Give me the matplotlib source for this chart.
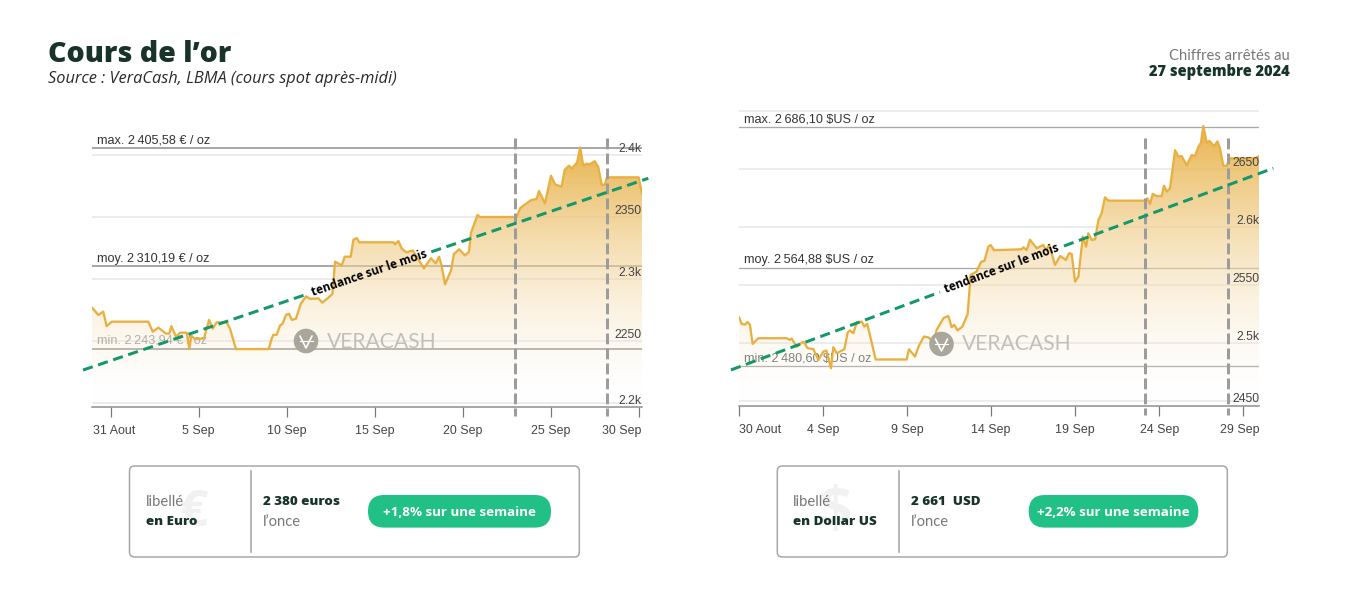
import numpy as np
import matplotlib
matplotlib.use('Agg')
import matplotlib.pyplot as plt
from matplotlib.colors import LinearSegmentedColormap
from matplotlib.patches import Circle, FancyBboxPatch
from matplotlib.transforms import ScaledTranslation

# euro panel (x = days since 31 Aout)
eur_days = [-1.06, -0.7, -0.42, -0.23, 0.06, 2.14, 2.39, 2.71, 3.14, 3.33, 3.45, 3.71, 3.94, 4.32, 4.47, 4.58,
            4.79, 5.3, 5.59, 5.8, 6.02, 6.59, 6.78, 7.12, 8.98, 9.15, 9.24, 9.43, 9.62, 9.77, 9.96, 10.13,
            10.3, 10.53, 10.8, 11.1, 11.33, 11.8, 12.03, 12.37, 12.6, 12.75, 13.13, 13.3, 13.64, 13.79, 13.98,
            14.13, 16.06, 16.15, 16.35, 16.53, 16.8, 17.16, 17.39, 17.8, 18.2, 18.47, 18.66, 18.8, 19.0, 19.34,
            19.5, 19.8, 20.13, 20.36, 20.47, 20.84, 20.99, 23.07, 23.26, 23.5, 23.9, 24.2, 24.34, 24.68, 25.02,
            25.25, 25.62, 25.8, 26.04, 26.2, 26.5, 26.68, 26.85, 27.04, 27.2, 27.5, 27.7, 27.9, 28.08, 28.2,
            30.0, 30.19]
eur_vals = [2276.9, 2271, 2273.7, 2262, 2265.6, 2265.6, 2257.5, 2260.8, 2256, 2256, 2262, 2253.5, 2256.7, 2256.7,
            2243.5, 2254.3, 2251.6, 2252, 2267, 2260, 2265, 2265, 2260, 2243.5, 2243.5, 2252, 2255, 2255, 2262.4,
            2264, 2271, 2272, 2267, 2268, 2280, 2286, 2284, 2284.4, 2281, 2285, 2288, 2314, 2311, 2318, 2318,
            2331.5, 2333, 2329.6, 2329.6, 2328, 2330.6, 2324.7, 2321.5, 2323, 2318, 2308.6, 2316.7, 2312.6, 2318,
            2311, 2295.7, 2307, 2320, 2324, 2319, 2322, 2337, 2351.6, 2350, 2350, 2357, 2359.7, 2363.7, 2364.5,
            2371, 2361, 2383.3, 2376.3, 2374.5, 2388, 2391.4, 2389, 2394, 2406, 2391.4, 2393, 2392.5, 2395, 2390.6,
            2376, 2376, 2382, 2382, 2369]
eur_ticks = [0, 5, 10, 15, 20, 25, 30]
eur_ticklabels = ['31 Aout', '5 Sep', '10 Sep', '15 Sep', '20 Sep', '25 Sep', '30 Sep']
eur_grid = [2200, 2250, 2300, 2350, 2400]
eur_ylabels = ['2.2k', '2250', '2.3k', '2350', '2.4k']
eur_refs = [2405.58, 2310.19, 2243.94]
eur_reflabels = ['max. 2\u2009405,58 € / oz', 'moy. 2\u2009310,19 € / oz', 'min. 2\u2009243,94 € / oz']
eur_week = [22.97, 28.2]
eur_trend = [([-1.57, 11.14], [2226.6, 2287.7]), ([18.22, 30.55], [2321.9, 2381.2])]

# dollar panel (x = days since 30 Aout)
usd_days = [0, 0.16, 0.36, 0.5, 0.65, 0.81, 1.15, 2.84, 3.03, 3.13, 3.43, 3.83, 4.08, 4.42, 4.72, 5.02, 5.2, 5.47,
            5.61, 5.81, 6.27, 6.46, 6.6, 6.8, 7, 7.3, 7.46, 7.63, 8.13, 9.97, 10.11, 10.47, 10.7, 11, 11.26, 11.56,
            11.76, 12.16, 12.45, 12.65, 12.8, 13, 13.29, 13.6, 13.78, 14.13, 14.4, 14.6, 14.83, 14.97, 15.17, 16.81,
            16.92, 17.11, 17.31, 17.71, 18.1, 18.26, 18.46, 18.8, 19.1, 19.45, 19.63, 19.79, 19.99, 20.19, 20.45,
            20.65, 20.78, 20.98, 21.18, 21.38, 21.57, 21.77, 21.97, 24.15, 24.29, 24.45, 24.61, 24.85, 25.15, 25.28,
            25.44, 25.64, 25.94, 26.14, 26.33, 26.63, 26.93, 27.13, 27.33, 27.48, 27.62, 27.82, 27.98, 28.26, 28.46,
            28.61, 28.81, 29.01, 29.21, 30.7, 30.95]
usd_vals = [2522.3, 2516.6, 2516, 2518.3, 2515.8, 2499.4, 2504.3, 2504.3, 2502.9, 2504, 2497, 2501.4, 2495.7, 2495,
            2485.7, 2492.8, 2493.7, 2478.5, 2496.6, 2491.4, 2494.8, 2509, 2511, 2508.6, 2517.8, 2518.6, 2514.3,
            2516.6, 2486, 2486, 2494.8, 2488.5, 2497.7, 2505.7, 2505, 2501.4, 2511.5, 2521.5, 2523.5, 2513.8, 2515.8,
            2511, 2514.3, 2525, 2558.7, 2561.6, 2570, 2570.8, 2583, 2584.5, 2580, 2580.8, 2582.5, 2580, 2589, 2581.7,
            2584.5, 2580, 2584.5, 2567.3, 2575, 2571.6, 2577.4, 2576.8, 2553, 2557.3, 2591.7, 2583, 2594.6, 2588.8,
            2589.4, 2606, 2611.7, 2625.5, 2622.6, 2622.6, 2624.6, 2619.8, 2628.4, 2626.6, 2626.6, 2635.5, 2630.4,
            2633.2, 2666, 2660.5, 2661, 2653, 2661.9, 2661, 2669, 2672.5, 2686.8, 2672.5, 2674, 2669.6, 2673.6, 2667.6,
            2652.7, 2652.7, 2659, 2659, 2661]
usd_ticks = [0, 5, 10, 15, 20, 25, 30]
usd_ticklabels = ['30 Aout', '4 Sep', '9 Sep', '14 Sep', '19 Sep', '24 Sep', '29 Sep']
usd_grid = [2450, 2500, 2550, 2600, 2650, 2700]
usd_ylabels = ['2450', '2.5k', '2550', '2.6k', '2650', '']
usd_refs = [2686.10, 2564.88, 2480.60]
usd_reflabels = ['max. 2\u2009686,10 $US / oz', 'moy. 2\u2009564,88 $US / oz', 'min. 2\u2009480,60 $US / oz']
usd_week = [24.15, 29.1]
usd_trend = [([-0.48, 11.96], [2477, 2544]), ([19.33, 31.78], [2583.6, 2650.5])]

W, H = 1350, 600
PX = 0.72  # one pixel in points at dpi 100
DARK = '#17332a'
GOLD = '#e9b040'
GREEN = '#13986b'
PILL = '#21c087'
SOFT = '#777777'
HELV = ['Liberation Sans', 'DejaVu Sans']
BODY = ['Open Sans', 'DejaVu Sans']
LIGHT = ['Lato', 'DejaVu Sans']

gold_cmap = LinearSegmentedColormap.from_list('gold', [(1, 1, 1, 0), (0.91, 0.70, 0.29, 0.98)])


def shift_label(lab, dx):
    lab.set_transform(lab.get_transform() + ScaledTranslation(dx / 100, 0, fig.dpi_scale_trans))


def draw_panel(box, xlim, ylim, days, vals, ticks, ticklabels, grid, ylabels, refs, reflabels, week, trend,
               text_xy, text_rot, min_color, ref_lw):
    l, t, r, b = box
    ax = fig.add_axes([l / W, 1 - b / H, (r - l) / W, (b - t) / H])
    ax.patch.set_alpha(0)
    ax.set_xlim(*xlim)
    ax.set_ylim(*ylim)
    for side in ['top', 'left', 'right']:
        ax.spines[side].set_visible(False)
    ax.spines['bottom'].set_color('#8c8c8c')
    ax.spines['bottom'].set_linewidth(1.5 * PX)
    ax.set_yticks([])
    ax.set_xticks(ticks)
    ax.set_xticklabels(ticklabels, fontsize=8.9, color='#444444', family=HELV)
    ax.tick_params(axis='x', length=9.5 * PX, width=1.2 * PX, color='#777777', pad=6)

    for g in grid:
        ax.axhline(g, color='#ececec', lw=2 * PX, zorder=1)
    for v, lab in zip(refs, reflabels):
        ax.axhline(v, color='#a8a8a8', lw=ref_lw * PX, zorder=2)
        col = min_color if lab.startswith('min') else '#333333'
        ax.annotate(lab, (5, v), xycoords=('axes pixels', 'data'), xytext=(0, 1.2), textcoords='offset points',
                    ha='left', va='bottom', fontsize=9.1, color=col, family=HELV, zorder=2)

    # fill fades from gold to nothing, clipped to the area below the curve
    fill = ax.fill_between(days, vals, ylim[0], color='none', lw=0)
    grad = np.linspace(1, 0, 256).reshape(-1, 1) ** 0.9
    top = max(vals)
    img = ax.imshow(grad, cmap=gold_cmap, vmin=0, vmax=1, aspect='auto', zorder=3,
                    extent=(xlim[0], xlim[1], ylim[0], top))
    img.set_clip_path(fill.get_paths()[0], ax.transData)
    ax.set_xlim(*xlim)
    ax.set_ylim(*ylim)
    ax.plot(days, vals, color=GOLD, lw=2.3 * PX, zorder=4, solid_joinstyle='round')

    for lab, v in zip(ylabels, grid):
        off = 1.6 if v == grid[0] else 4.2
        ax.annotate(lab, (1, v), xycoords=('axes fraction', 'data'), xytext=(0, off), textcoords='offset points',
                    ha='right', va='center', fontsize=8.8, color='#444444', family=HELV, zorder=5)

    px_per_unit = (b - t) / (ylim[1] - ylim[0])
    for d in week:
        ax.plot([d, d], [ylim[1] - (138 - t) / px_per_unit, ylim[0] - 8.5 / px_per_unit], color='#9c9c9c',
                lw=3 * PX, ls=(0, (3.6, 1.4)), clip_on=False, zorder=6)
    for xs, ys in trend:
        ax.plot(xs, ys, color=GREEN, lw=3 * PX, ls=(0, (3.4, 1.9)), clip_on=False, zorder=7)
    ax.text(text_xy[0], text_xy[1], 'tendance sur le mois', rotation=text_rot, rotation_mode='anchor', ha='center',
            va='center', fontsize=8.5, fontweight='bold', color='black', family=BODY, zorder=8)

    return ax, ax.get_xticklabels()


fig = plt.figure(figsize=(W / 100, H / 100), dpi=100, facecolor='white')

ax1, labs1 = draw_panel((92, 138, 642, 407), (-1.06, 30.19), (2196.8, 2413.7), eur_days, eur_vals, eur_ticks,
                        eur_ticklabels, eur_grid, eur_ylabels, eur_refs, eur_reflabels, eur_week, eur_trend,
                        (14.7, 2305), 18.8, '#999999', 2)
shift_label(labs1[0], 3)
labs1[-1].set_ha('right')
shift_label(labs1[-1], 3)

ax2, labs2 = draw_panel((739, 110, 1259.3, 406), (0, 30.95), (2446, 2700.6), usd_days, usd_vals, usd_ticks,
                        usd_ticklabels, usd_grid, usd_ylabels, usd_refs, usd_reflabels, usd_week, usd_trend,
                        (15.65, 2564), 20.4, '#666666', 1.3)
labs2[0].set_ha('left')
labs2[-1].set_ha('right')
shift_label(labs2[-1], 16)

# everything else sits on a pixel-sized overlay
ov = fig.add_axes([0, 0, 1, 1], zorder=10)
ov.set_xlim(0, W)
ov.set_ylim(H, 0)
ov.axis('off')
ov.patch.set_alpha(0)

ov.text(48, 54, 'Cours de l’or', fontsize=20.5, fontweight=800, color=DARK, family=BODY, va='center')
ov.text(48, 79, 'Source : VeraCash, LBMA (cours spot après-midi)', fontsize=11.75, style='italic', color='#2a2a2a',
        family=BODY, va='center')
ov.text(1290, 56, 'Chiffres arrêtés au', fontsize=10.6, color=SOFT, family=LIGHT, ha='right', va='center')
ov.text(1290, 72, '27 septembre 2024', fontsize=10.5, fontweight=800, color=DARK, family=BODY, ha='right',
        va='center')


def draw_logo(cx, cy, word_x):
    ov.add_patch(Circle((cx, cy), 12.3, fc='#a9a79a', ec='none'))
    ov.plot([cx - 6, cx, cx + 6], [cy - 5, cy + 7, cy - 5], color='white', lw=1.2, solid_capstyle='round')
    ov.plot([cx - 6.5, cx + 6.5], [cy, cy], color='white', lw=0.8)
    ov.text(word_x, cy + 0.5, 'VERACASH', fontsize=15.2, color='#c0c0bb', family=LIGHT, va='center')


draw_logo(306, 341, 327)
draw_logo(941.5, 344, 962)


def draw_card(l, r, divider, glyph, glyph_x, glyph_size, line1, price, pill_l, pill_r, pill_text):
    ov.add_patch(FancyBboxPatch((l + 5, 471), r - l - 10, 81, boxstyle='round,pad=5', fc='white', ec='#a6a6a6',
                                lw=1.5 * PX))
    ov.plot([divider, divider], [471, 552], color='#a6a6a6', lw=1.6 * PX)
    ov.text(glyph_x, 513, glyph, fontsize=glyph_size, fontweight='bold', color='#f0f1f0', family=BODY, ha='center',
            va='center')
    ov.text(l + 16, 502, 'libellé', fontsize=10.6, color=SOFT, family=LIGHT, va='center')
    ov.text(l + 16, 522, line1, fontsize=9.6, fontweight=800, color=DARK, family=BODY, va='center')
    ov.text(divider + 12, 502, price, fontsize=9.6, fontweight=800, color=DARK, family=BODY, va='center')
    ov.text(divider + 12, 522, 'l’once', fontsize=10.6, color=SOFT, family=LIGHT, va='center')
    rad = 16.3
    ov.add_patch(FancyBboxPatch((pill_l + rad, 495 + rad), pill_r - pill_l - 2 * rad, 0.01,
                                boxstyle=f'round,pad={rad},rounding_size={rad}', fc=PILL, ec='none'))
    ov.text((pill_l + pill_r) / 2, 512.5, pill_text, fontsize=9.6, fontweight='bold', color='white', family=BODY,
            ha='center', va='center')


draw_card(129.5, 579.3, 250.7, '€', 194, 36, 'en Euro', '2 380 euros', 368, 551, '+1,8% sur une semaine')
draw_card(777.3, 1227.3, 898.7, '$', 835, 42, 'en Dollar US', '2 661  USD', 1028.7, 1198.3, '+2,2% sur une semaine')

fig.savefig('out.png', dpi=100)
